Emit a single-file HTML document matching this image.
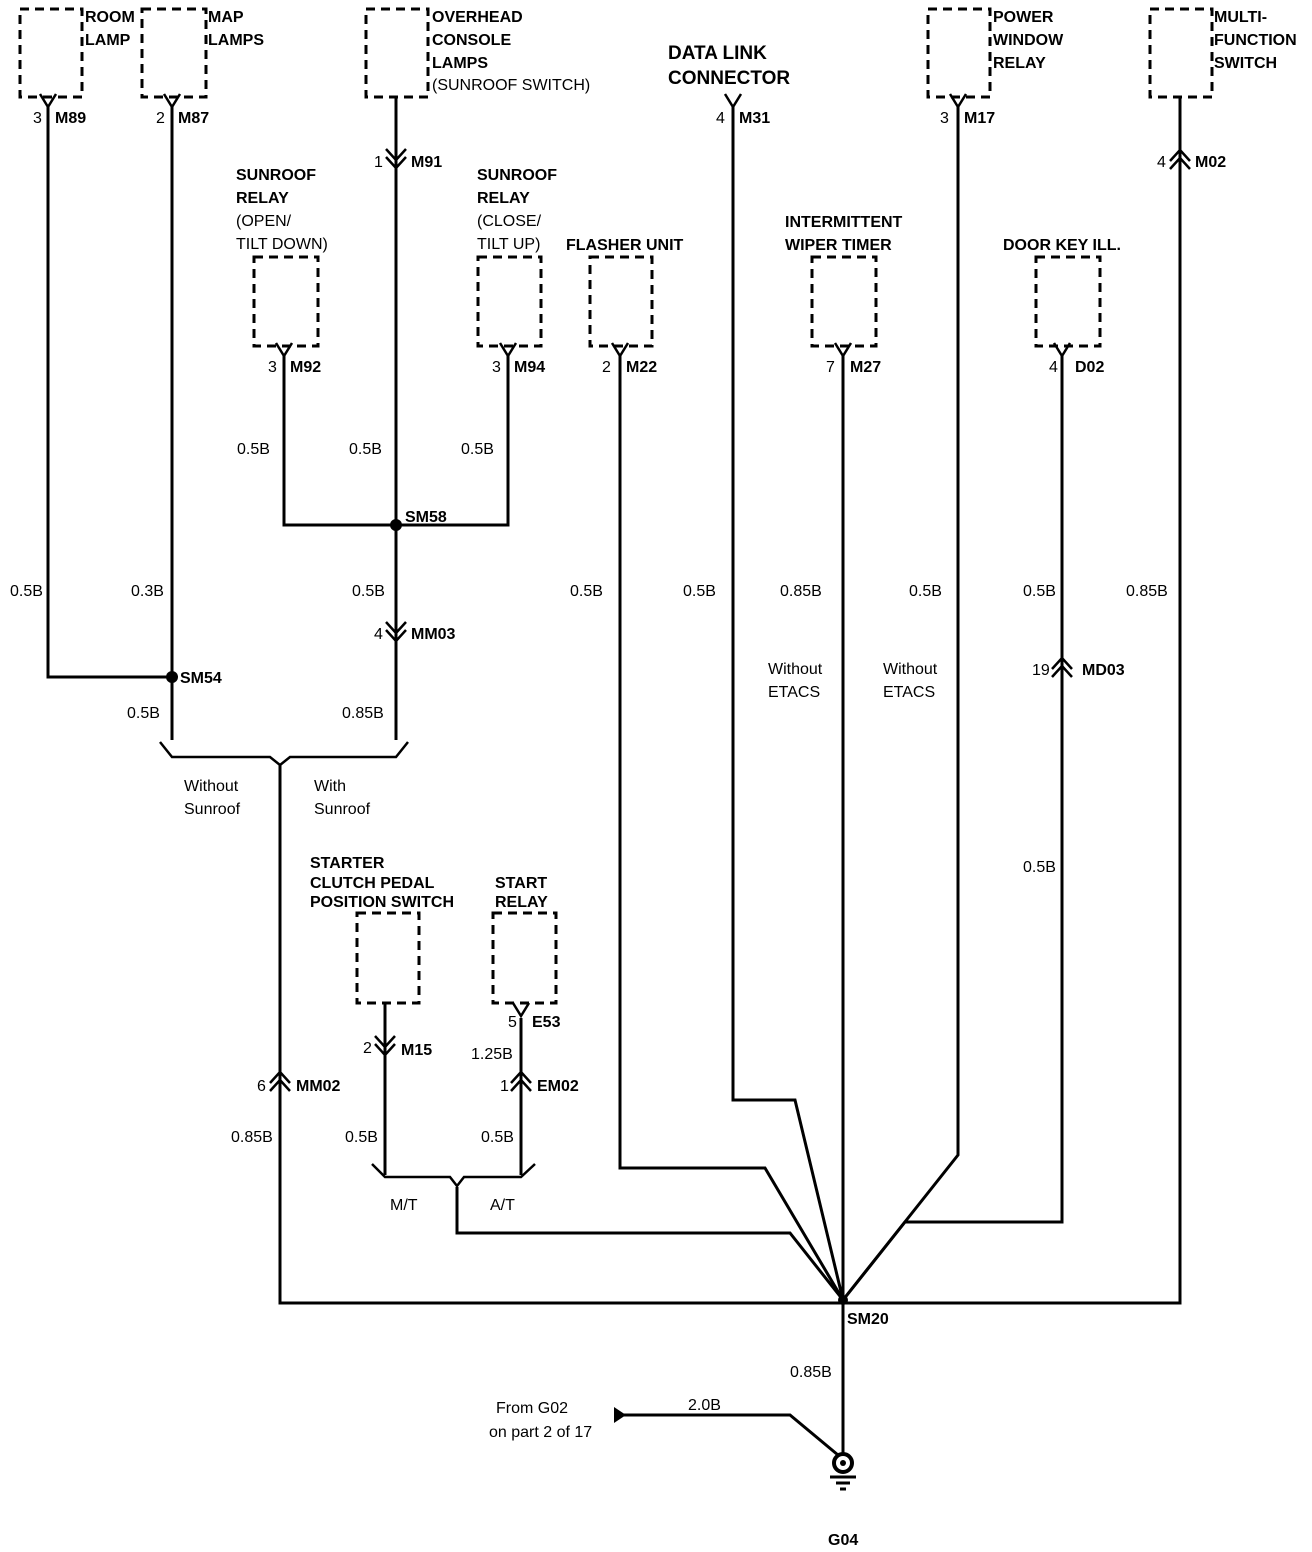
<!DOCTYPE html>
<html><head><meta charset="utf-8"><style>
html,body{margin:0;padding:0;background:#fff}
svg{display:block}
text{font-family:"Liberation Sans",sans-serif;font-size:16px;fill:#000}
.b{font-weight:bold}
.t{font-weight:bold;font-size:19px}
</style></head><body>
<svg width="1312" height="1552" viewBox="0 0 1312 1552" xmlns="http://www.w3.org/2000/svg">
<g fill="none" stroke="#000" stroke-width="3" stroke-dasharray="9,6">
<rect x="20" y="9" width="62" height="88"/>
<rect x="142" y="9" width="64" height="88"/>
<rect x="366" y="9" width="62" height="88"/>
<rect x="928" y="9" width="62" height="88"/>
<rect x="1150" y="9" width="62" height="88"/>
<rect x="254" y="257" width="64" height="89"/>
<rect x="478" y="257" width="63" height="89"/>
<rect x="590" y="257" width="62" height="89"/>
<rect x="812" y="257" width="64" height="89"/>
<rect x="1036" y="257" width="64" height="89"/>
<rect x="357" y="913" width="62" height="90"/>
<rect x="493" y="913" width="63" height="90"/>
</g>
<g fill="none" stroke="#000" stroke-width="3" stroke-linejoin="miter">
<polyline points="48,106 48,677 172,677"/>
<polyline points="172,106 172,740"/>
<polyline points="396,97 396,740"/>
<polyline points="284,355 284,525 508,525 508,355"/>
<polyline points="620,355 620,1168 765,1168 843,1300"/>
<polyline points="733,106 733,1100 795,1100 843,1300"/>
<polyline points="958,106 958,1155 843,1300"/>
<polyline points="1180,97 1180,1303 843,1303"/>
<polyline points="843,355 843,1455"/>
<polyline points="1062,355 1062,1222 905,1222 843,1300"/>
<polyline points="280,765 280,1303 843,1303"/>
<polyline points="385,1003 385,1175"/>
<polyline points="521,1018 521,1175"/>
<polyline points="457,1187 457,1233 790,1233 843,1300"/>
<polyline points="622,1415 790,1415 838,1455"/>
<polyline points="160,742 172,757 270,757 280,765 290,757 396,757 408,742" stroke-width="2.5"/>
<polyline points="372,1164 385,1177 450,1177 457,1186 464,1177 521,1177 535,1164" stroke-width="2.5"/>
<g stroke-width="2.5">
<polyline points="40,94 48,107 56,94"/>
<polyline points="164,94 172,107 180,94"/>
<polyline points="725,94 733,107 741,94"/>
<polyline points="950,94 958,107 966,94"/>
<polyline points="276,343 284,356 292,343"/>
<polyline points="500,343 508,356 516,343"/>
<polyline points="612,343 620,356 628,343"/>
<polyline points="835,343 843,356 851,343"/>
<polyline points="1054,343 1062,356 1070,343"/>
<polyline points="513,1003 521,1016 529,1003"/>
<polyline points="386,149 396,160 406,149"/><polyline points="386,157 396,168 406,157"/>
<polyline points="386,622 396,633 406,622"/><polyline points="386,630 396,641 406,630"/>
<polyline points="375,1036 385,1047 395,1036"/><polyline points="375,1044 385,1055 395,1044"/>
<polyline points="1170,161 1180,150 1190,161"/><polyline points="1170,169 1180,158 1190,169"/>
<polyline points="1052,669 1062,658 1072,669"/><polyline points="1052,677 1062,666 1072,677"/>
<polyline points="270,1083 280,1072 290,1083"/><polyline points="270,1091 280,1080 290,1091"/>
<polyline points="511,1083 521,1072 531,1083"/><polyline points="511,1091 521,1080 531,1091"/>
</g>
</g>
<circle cx="172" cy="677" r="6" fill="#000"/>
<circle cx="396" cy="525" r="6" fill="#000"/>
<circle cx="843" cy="1300" r="5" fill="#000"/>
<polygon points="614,1407 614,1423 626,1415" fill="#000"/>
<circle cx="843" cy="1463" r="9" fill="none" stroke="#000" stroke-width="4"/>
<circle cx="843" cy="1463" r="3" fill="#000"/>
<line x1="830" y1="1477" x2="856" y2="1477" stroke="#000" stroke-width="3"/>
<line x1="836" y1="1483" x2="850" y2="1483" stroke="#000" stroke-width="3"/>
<line x1="840" y1="1489" x2="846" y2="1489" stroke="#000" stroke-width="3"/>
<g class="b">
<text x="85" y="22">ROOM</text><text x="85" y="45">LAMP</text>
<text x="208" y="22">MAP</text><text x="208" y="45">LAMPS</text>
<text x="432" y="22">OVERHEAD</text><text x="432" y="45">CONSOLE</text><text x="432" y="68">LAMPS</text>
<text x="993" y="22">POWER</text><text x="993" y="45">WINDOW</text><text x="993" y="68">RELAY</text>
<text x="1214" y="22">MULTI-</text><text x="1214" y="45">FUNCTION</text><text x="1214" y="68">SWITCH</text>
<text x="236" y="180">SUNROOF</text><text x="236" y="203">RELAY</text>
<text x="477" y="180">SUNROOF</text><text x="477" y="203">RELAY</text>
<text x="566" y="250">FLASHER UNIT</text>
<text x="785" y="227">INTERMITTENT</text><text x="785" y="250">WIPER TIMER</text>
<text x="1003" y="250">DOOR KEY ILL.</text>
<text x="310" y="868">STARTER</text><text x="310" y="888">CLUTCH PEDAL</text><text x="310" y="907">POSITION SWITCH</text>
<text x="495" y="888">START</text><text x="495" y="907">RELAY</text>
<text x="55" y="123">M89</text><text x="178" y="123">M87</text>
<text x="739" y="123">M31</text><text x="964" y="123">M17</text>
<text x="411" y="167">M91</text><text x="1195" y="167">M02</text>
<text x="290" y="372">M92</text><text x="514" y="372">M94</text><text x="626" y="372">M22</text>
<text x="850" y="372">M27</text><text x="1075" y="372">D02</text>
<text x="405" y="522">SM58</text><text x="411" y="639">MM03</text>
<text x="180" y="683">SM54</text><text x="1082" y="675">MD03</text>
<text x="401" y="1055">M15</text><text x="532" y="1027">E53</text>
<text x="537" y="1091">EM02</text><text x="296" y="1091">MM02</text>
<text x="847" y="1324">SM20</text><text x="828" y="1545">G04</text>
</g>
<text class="t" x="668" y="59">DATA LINK</text><text class="t" x="668" y="84">CONNECTOR</text>
<g>
<text x="432" y="90">(SUNROOF SWITCH)</text>
<text x="236" y="226">(OPEN/</text><text x="236" y="249">TILT DOWN)</text>
<text x="477" y="226">(CLOSE/</text><text x="477" y="249">TILT UP)</text>
<text x="33" y="123">3</text><text x="156" y="123">2</text><text x="716" y="123">4</text><text x="940" y="123">3</text>
<text x="374" y="167">1</text><text x="1157" y="167">4</text>
<text x="268" y="372">3</text><text x="492" y="372">3</text><text x="602" y="372">2</text><text x="826" y="372">7</text><text x="1049" y="372">4</text>
<text x="237" y="454">0.5B</text><text x="349" y="454">0.5B</text><text x="461" y="454">0.5B</text>
<text x="10" y="596">0.5B</text><text x="131" y="596">0.3B</text><text x="352" y="596">0.5B</text>
<text x="570" y="596">0.5B</text><text x="683" y="596">0.5B</text><text x="780" y="596">0.85B</text>
<text x="909" y="596">0.5B</text><text x="1023" y="596">0.5B</text><text x="1126" y="596">0.85B</text>
<text x="374" y="639">4</text><text x="1032" y="675">19</text>
<text x="768" y="674">Without</text><text x="768" y="697">ETACS</text>
<text x="883" y="674">Without</text><text x="883" y="697">ETACS</text>
<text x="127" y="718">0.5B</text><text x="342" y="718">0.85B</text>
<text x="184" y="791">Without</text><text x="184" y="814">Sunroof</text>
<text x="314" y="791">With</text><text x="314" y="814">Sunroof</text>
<text x="1023" y="872">0.5B</text>
<text x="508" y="1027">5</text><text x="363" y="1053">2</text><text x="471" y="1059">1.25B</text>
<text x="500" y="1091">1</text><text x="257" y="1091">6</text>
<text x="231" y="1142">0.85B</text><text x="345" y="1142">0.5B</text><text x="481" y="1142">0.5B</text>
<text x="390" y="1210">M/T</text><text x="490" y="1210">A/T</text>
<text x="790" y="1377">0.85B</text>
<text x="688" y="1410">2.0B</text>
<text x="496" y="1413">From G02</text><text x="489" y="1437">on part 2 of 17</text>
</g>
</svg>
</body></html>
